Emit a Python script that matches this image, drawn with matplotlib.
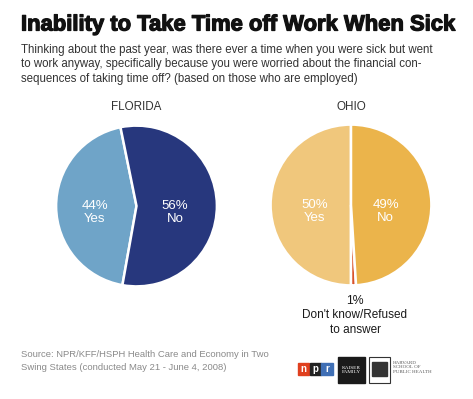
import matplotlib
matplotlib.use("Agg")
import matplotlib.pyplot as plt
import matplotlib.patheffects as pe
from matplotlib.patches import Rectangle

plt.rcParams["font.family"] = ["Liberation Sans", "DejaVu Sans"]

TITLE = "Inability to Take Time off Work When Sick"
SUBTITLE = ("Thinking about the past year, was there ever a time when you were sick but went\n"
            "to work anyway, specifically because you were worried about the financial con-\n"
            "sequences of taking time off? (based on those who are employed)")
SOURCE = ("Source: NPR/KFF/HSPH Health Care and Economy in Two\n"
          "Swing States (conducted May 21 - June 4, 2008)")

FL_LABELS = ["Yes", "No"]
FL_VALUES = [44, 56]
FL_COLORS = ["#6fa4c8", "#27377d"]

OH_LABELS = ["Yes", "Don't know/Refused\nto answer", "No"]
OH_VALUES = [50, 1, 49]
OH_COLORS = ["#f0c77c", "#d9532b", "#ebb44b"]

W, H = 473, 399
fig = plt.figure(figsize=(W / 100, H / 100), dpi=100)
fig.patch.set_facecolor("white")


def px_axes(cx, cy, r):
    # square axes centred on pixel (cx, cy) measured from top-left
    return fig.add_axes([(cx - r) / W, (H - cy - r) / H, 2 * r / W, 2 * r / H])


def pie(cx, cy, values, colors, start):
    ax = px_axes(cx, cy, 82)
    ax.pie(values, colors=colors, startangle=start, counterclock=True,
           wedgeprops=dict(edgecolor="white", linewidth=1.8))
    ax.set_xlim(-1.02, 1.02)
    ax.set_ylim(-1.02, 1.02)
    ax.axis("off")
    return ax


def label(ax, x, pct, name):
    ax.text(x, 0.0, f"{pct}%", color="white", ha="center", va="center", fontsize=9.5)
    ax.text(x, -0.165, name, color="white", ha="center", va="center", fontsize=9.5)


# title block
fig.text(21 / W, 1 - 25 / H, TITLE, fontsize=15.85, fontweight="bold",
         color="#111111", va="center", ha="left",
         path_effects=[pe.withStroke(linewidth=0.9, foreground="#111111")])
fig.text(21 / W, 1 - 43.5 / H, SUBTITLE, fontsize=8.3, color="#333333",
         va="top", ha="left", linespacing=1.3)

fig.text(136 / W, 1 - 107.5 / H, "FLORIDA", fontsize=8.4, color="#333333", ha="center", va="center")
fig.text(351 / W, 1 - 107.5 / H, "OHIO", fontsize=8.4, color="#333333", ha="center", va="center")

ax_fl = pie(136.5, 206, FL_VALUES, FL_COLORS, 101.5)
label(ax_fl, -0.52, FL_VALUES[0], FL_LABELS[0])
label(ax_fl, 0.48, FL_VALUES[1], FL_LABELS[1])

ax_oh = pie(351, 205, OH_VALUES, OH_COLORS, 90)
label(ax_oh, -0.45, OH_VALUES[0], OH_LABELS[0])
label(ax_oh, 0.43, OH_VALUES[2], OH_LABELS[2])

fig.text(355 / W, 1 - 300.5 / H, f"{OH_VALUES[1]}%", fontsize=8.8, color="#1a1a1a",
         ha="center", va="center")
fig.text(355 / W, 1 - 309 / H, OH_LABELS[1], fontsize=8.5, color="#1a1a1a",
         ha="center", va="top", linespacing=1.35)

fig.text(21 / W, 1 - 350 / H, SOURCE, fontsize=6.8, color="#8a8a8a",
         ha="left", va="top", linespacing=1.55)

# sponsor logos (rough)
lx = fig.add_axes([0, 0, 1, 1])
lx.set_xlim(0, W)
lx.set_ylim(H, 0)
lx.axis("off")
for i, (ch, col) in enumerate(zip("npr", ["#e0401f", "#222222", "#3f6fb5"])):
    lx.add_patch(Rectangle((298 + i * 11.7, 363), 11.2, 11.5, color=col))
    lx.text(298 + i * 11.7 + 5.6, 368.5, ch, color="white", fontsize=7,
            fontweight="bold", ha="center", va="center")
lx.add_patch(Rectangle((338, 357), 27, 26, color="#1a1a1a"))
lx.text(351.5, 370, "KAISER\nFAMILY", color="white", fontsize=3.8,
        ha="center", va="center", family="Liberation Serif", linespacing=1.1)
lx.add_patch(Rectangle((369, 357), 21, 26, facecolor="white", edgecolor="#333333", lw=0.8))
lx.add_patch(Rectangle((372, 362), 15, 14, color="#333333"))
lx.text(393, 367.5, "HARVARD\nSCHOOL OF\nPUBLIC HEALTH", color="#555555", fontsize=3.6,
        ha="left", va="center", family="Liberation Serif", linespacing=1.3)

fig.savefig("out.png", dpi=100)
